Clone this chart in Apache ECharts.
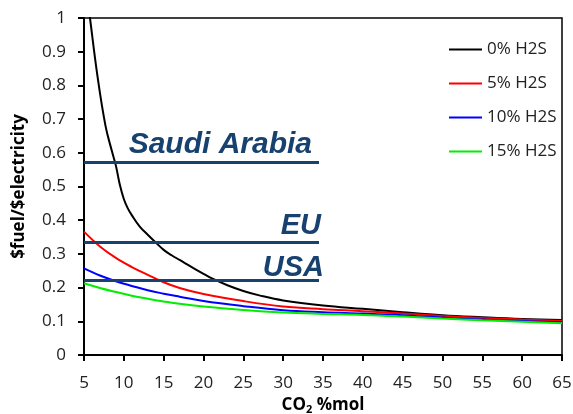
<!DOCTYPE html>
<html>
<head>
<meta charset="utf-8">
<script src="https://cdn.jsdelivr.net/npm/echarts@6/dist/echarts.min.js"></script>
<style>html,body{margin:0;padding:0;background:#fff;}#chart{width:573px;height:414px;}</style>
</head>
<body>
<div id="chart"></div>
<script>
// ---- Data ----
const seriesNames = ['0% H2S', '5% H2S', '10% H2S', '15% H2S'];
const blackX = [5, 5.75, 6.7, 7.7, 8.5, 9, 9.5, 10, 10.5, 11, 12, 13, 14, 15, 16, 17, 18, 20, 21, 23, 25, 27, 30, 35, 40, 45, 50, 55, 60, 65];
const blackY = [1.14, 1.0, 0.826, 0.68, 0.605, 0.562, 0.505, 0.463, 0.435, 0.415, 0.381, 0.357, 0.334, 0.312, 0.296, 0.282, 0.268, 0.241, 0.228, 0.207, 0.19, 0.177, 0.162, 0.147, 0.137, 0.127, 0.118, 0.112, 0.107, 0.104];
const colorX = [5, 7, 9, 11, 13, 15, 17, 20, 25, 30, 35, 40, 45, 50, 55, 60, 65];
const redY   = [0.366, 0.322, 0.288, 0.261, 0.238, 0.216, 0.199, 0.181, 0.160, 0.144, 0.136, 0.130, 0.123, 0.116, 0.110, 0.105, 0.101];
const blueY  = [0.257, 0.236, 0.219, 0.205, 0.192, 0.182, 0.173, 0.160, 0.145, 0.133, 0.127, 0.123, 0.118, 0.111, 0.105, 0.101, 0.097];
const greenY = [0.213, 0.199, 0.187, 0.176, 0.167, 0.159, 0.152, 0.144, 0.1335, 0.126, 0.122, 0.119, 0.114, 0.108, 0.103, 0.099, 0.094];
const refNames = ['Saudi Arabia', 'EU', 'USA'];
const refValues = [0.571, 0.336, 0.2205];
const refXRange = [5, 34.5];
const xTicks = {min: 5, max: 65, interval: 5};
const yTicks = {min: 0, max: 1, interval: 0.1};

const zip = (xs, ys) => xs.map((x, i) => [x, ys[i]]);
const colors = ['#000000', '#ff0000', '#0000ff', '#00ee00'];
const dataSets = [zip(blackX, blackY), zip(colorX, redY), zip(colorX, blueY), zip(colorX, greenY)];
const refColor = '#17426f';
const labelFont = {fontFamily: 'Liberation Sans', fontWeight: 'bold', fontStyle: 'italic', color: refColor};
const refLabelTweaks = [{distance: 3, dx: -4, size: 30}, {distance: 1, dx: 3, size: 29}, {distance: -2, dx: 3, size: 29}];

const chart = echarts.init(document.getElementById('chart'), null, {renderer: 'canvas'});
const series = seriesNames.map((n, i) => ({
  name: n, type: 'line', data: dataSets[i], symbol: 'none', smooth: 0.4,
  lineStyle: {color: colors[i], width: 2}, itemStyle: {color: colors[i]},
  z: 3, clip: true
}));
series.push({
  name: 'ref', type: 'line', data: [], symbol: 'none',
  markLine: {
    silent: true, symbol: 'none', animation: false,
    lineStyle: {color: refColor, width: 3, type: 'solid'},
    data: refValues.map((v, i) => [
      {coord: [refXRange[0], v],
       label: Object.assign({show: true, position: 'insideEndTop', formatter: refNames[i],
         fontSize: refLabelTweaks[i].size,
         distance: refLabelTweaks[i].distance, offset: [refLabelTweaks[i].dx, 0]}, labelFont)},
      {coord: [refXRange[1], v]}
    ])
  },
  z: 2
});

chart.setOption({
  animation: false,
  backgroundColor: '#fff',
  textStyle: {fontFamily: 'Open Sans'},
  grid: {left: 84, right: 11, top: 18, bottom: 59, show: true, borderColor: '#000', borderWidth: 1.5,
    containLabel: false, outerBoundsMode: 'none'},
  legend: {
    data: seriesNames, orient: 'vertical', left: 449, top: 41, padding: 0,
    icon: 'rect', itemWidth: 33, itemHeight: 2, itemGap: 17,
    textStyle: {fontFamily: 'Open Sans', fontSize: 17, color: '#222'}
  },
  xAxis: {
    type: 'value', min: xTicks.min, max: xTicks.max, interval: xTicks.interval,
    name: 'CO{sub|2} %mol', nameLocation: 'middle', nameGap: 38,
    nameTextStyle: {fontFamily: 'Open Sans', fontWeight: 'bold', fontSize: 17, color: '#000',
      rich: {sub: {fontFamily: 'Open Sans', fontWeight: 'bold', fontSize: 11, color: '#000', verticalAlign: 'bottom', padding: [8, 0, 0, 0]}}},
    axisLine: {show: true, lineStyle: {color: '#000', width: 2}},
    axisTick: {show: true, inside: false, length: 6, lineStyle: {color: '#000', width: 2}},
    axisLabel: {fontFamily: 'Open Sans', fontSize: 17, color: '#222', margin: 20},
    splitLine: {show: false}
  },
  yAxis: {
    type: 'value', min: yTicks.min, max: yTicks.max, interval: yTicks.interval,
    name: '$fuel/$electricity', nameLocation: 'middle', nameGap: 56,
    nameTextStyle: {fontFamily: 'Open Sans', fontWeight: 'bold', fontSize: 17, color: '#000'},
    axisLine: {show: true, lineStyle: {color: '#000', width: 2}},
    axisTick: {show: true, inside: false, length: 6, lineStyle: {color: '#000', width: 2}},
    axisLabel: {fontFamily: 'Open Sans', fontSize: 17, color: '#222', margin: 18,
      formatter: v => String(Math.round(v * 10) / 10)},
    splitLine: {show: false}
  },
  series: series
});
</script>
</body>
</html>
